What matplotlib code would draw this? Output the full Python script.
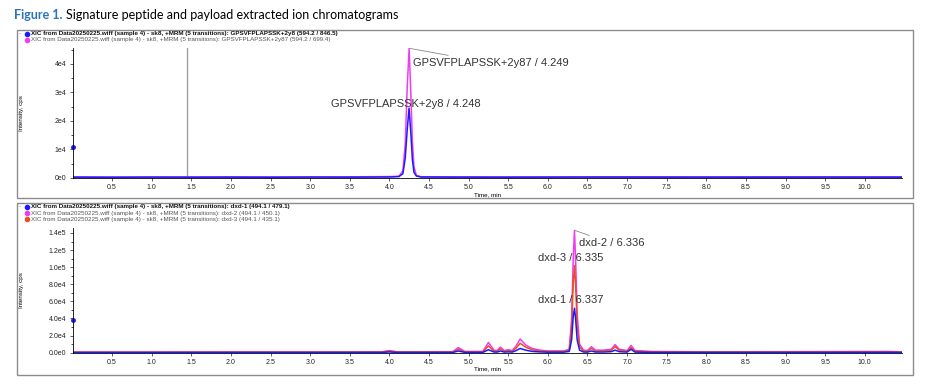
import matplotlib.pyplot as plt
from matplotlib.patches import Rectangle
from matplotlib.ticker import MultipleLocator, FuncFormatter

plt.rcParams['font.family'] = ['Liberation Sans', 'DejaVu Sans']

# ---- data ----
# top panel: signature peptide
y8_t = [0.0, 0.5, 1.0, 1.5, 2.0, 2.5, 3.0, 3.5, 4.0, 4.12, 4.17, 4.20, 4.225, 4.248,
        4.27, 4.29, 4.31, 4.34, 4.40, 4.8, 5.5, 6.5, 7.5, 8.5, 9.5, 10.47]
y8_i = [300, 250, 320, 280, 300, 260, 330, 290, 350, 500, 1500, 7000, 17000, 24500,
        16000, 6500, 2000, 700, 350, 300, 280, 320, 300, 290, 310, 300]
y87_t = [0.0, 1.0, 2.0, 3.0, 4.0, 4.12, 4.17, 4.20, 4.225, 4.249, 4.27, 4.29, 4.31,
         4.34, 4.40, 5.0, 6.0, 7.0, 8.0, 9.0, 10.47]
y87_i = [350, 300, 380, 330, 500, 600, 2500, 12000, 32000, 45500, 30000, 13000, 4000,
         900, 450, 380, 350, 400, 360, 380, 350]
top_start = 1.1e4
cursor_t = 1.44

# bottom panel: payload transitions
dxd_t = [0.0, 1.0, 2.0, 3.0, 3.9, 4.0, 4.1, 4.8, 4.87, 4.95, 5.18, 5.25, 5.32, 5.36,
         5.40, 5.45, 5.5, 5.55, 5.6, 5.65, 5.72, 5.8, 5.9, 6.0, 6.2, 6.27, 6.30, 6.32,
         6.336, 6.35, 6.37, 6.40, 6.45, 6.5, 6.55, 6.6, 6.7, 6.8, 6.85, 6.9, 7.0, 7.05,
         7.1, 7.3, 8.0, 9.0, 10.3, 10.47]
dxd2_i = [800, 800, 900, 900, 1000, 2500, 1000, 1200, 6000, 1500, 1500, 12000, 3000, 2500,
          6500, 2500, 3500, 2500, 8000, 16000, 9000, 5000, 3000, 2000, 2000, 4000, 40000, 110000,
          143000, 110000, 45000, 10000, 3000, 2500, 7000, 3000, 3000, 4000, 9500, 4000, 2500, 8500,
          2500, 1500, 1000, 1200, 1500, 1000]
dxd3_i = [500, 500, 600, 600, 700, 1800, 700, 800, 4000, 1000, 1000, 8000, 2000, 1800,
          4500, 1800, 2500, 1800, 5500, 11000, 6500, 3500, 2000, 1500, 1500, 3000, 30000, 80000,
          102000, 80000, 32000, 7000, 2000, 1800, 5000, 2000, 2200, 3000, 7000, 3000, 1800, 6000,
          1800, 1000, 700, 800, 1000, 700]
dxd1_i = [200, 200, 250, 250, 300, 900, 300, 300, 2000, 400, 400, 3500, 800, 700,
          2000, 700, 1000, 700, 2500, 5000, 3000, 1500, 900, 600, 600, 1500, 15000, 42000,
          52000, 40000, 15000, 3000, 800, 700, 2000, 800, 800, 1200, 3000, 1200, 700, 4000,
          700, 400, 300, 300, 400, 300]
bot_start = 3.8e4

top_legend = ["XIC from Data20250225.wiff (sample 4) - sk8, +MRM (5 transitions): GPSVFPLAPSSK+2y8 (594.2 / 846.5)",
              "XIC from Data20250225.wiff (sample 4) - sk8, +MRM (5 transitions): GPSVFPLAPSSK+2y87 (594.2 / 699.4)"]
bot_legend = ["XIC from Data20250225.wiff (sample 4) - sk8, +MRM (5 transitions): dxd-1 (494.1 / 479.1)",
              "XIC from Data20250225.wiff (sample 4) - sk8, +MRM (5 transitions): dxd-2 (494.1 / 450.1)",
              "XIC from Data20250225.wiff (sample 4) - sk8, +MRM (5 transitions): dxd-3 (494.1 / 435.1)"]

blue = '#1a1aff'
magenta = '#f03cf0'
orange = '#e8501e'
W, H = 936, 387

fig = plt.figure(figsize=(W / 100, H / 100), dpi=100)


def fx(px):
    return px / W


def fy(py):
    return 1 - py / H


# panel frames
for top, bot in [(30, 198), (203, 375)]:
    fig.patches.append(Rectangle((fx(17), fy(bot)), fx(913 - 17), (bot - top) / H,
                                 transform=fig.transFigure, fill=False,
                                 edgecolor='#8c8c8c', linewidth=1.0))

# title
renderer = fig.canvas.get_renderer()
t1 = fig.text(fx(14), fy(15), 'Figure 1.', color='#2e74b5', fontsize=9,
              family='Lato', fontweight='bold', va='center')
bb = t1.get_window_extent(renderer)
fig.text(bb.x1 / W + fx(4), fy(15), 'Signature peptide and payload extracted ion chromatograms',
         color='black', fontsize=9, family='Lato', va='center')

# legends
def legend_rows(labels, colors, y0):
    fig.text(fx(19), fy(y0), '-', fontsize=4, color='#555555', va='center')
    for k, (lab, col) in enumerate(zip(labels, colors)):
        y = y0 + k * 6
        fig.lines.append(plt.Line2D([fx(27)], [fy(y)], marker='o', markersize=3.0,
                                    color=col, transform=fig.transFigure))
        fig.text(fx(31), fy(y), lab, fontsize=4.5, va='center',
                 color='#111111' if k == 0 else '#555555',
                 fontweight='bold' if k == 0 else 'normal')


legend_rows(top_legend, [blue, magenta], 34)
legend_rows(bot_legend, [blue, magenta, orange], 207)


def style_axes(ax, ymax, major, fmt):
    ax.set_xlim(0, 10.47)
    ax.set_ylim(0, ymax)
    for s in ['top', 'right']:
        ax.spines[s].set_visible(False)
    ax.spines['left'].set_linewidth(0.6)
    ax.spines['bottom'].set_linewidth(0.6)
    ax.set_xticks([0.5 * k for k in range(1, 21)])
    ax.xaxis.set_major_formatter(FuncFormatter(lambda v, p: f'{v:.1f}'))
    ax.yaxis.set_major_locator(MultipleLocator(major))
    ax.yaxis.set_minor_locator(MultipleLocator(major / 2))
    ax.yaxis.set_major_formatter(FuncFormatter(fmt))
    ax.tick_params(labelsize=5, length=2.5, width=0.5, pad=2, colors='#222222')
    ax.tick_params(which='minor', length=1.5, width=0.5)
    ax.set_xlabel('Time, min', fontsize=4.5, labelpad=0.5)
    ax.set_ylabel('Intensity, cps', fontsize=4.5)
    ax.yaxis.set_label_coords(-0.058, 0.5)


def fmt_top(v, p):
    if v == 0:
        return '0e0'
    return f'{v / 1e4:.0f}e4'


def fmt_bot(v, p):
    if v == 0:
        return '0.0e0'
    if v >= 1e5:
        return f'{v / 1e5:.1f}e5'
    return f'{v / 1e4:.1f}e4'


ax1 = fig.add_axes([fx(72.5), fy(178), fx(902 - 72.5), (178 - 48) / H])
ax1.axvline(cursor_t, color='#a0a0a0', linewidth=1.0)
ax1.plot(y87_t, y87_i, color=magenta, linewidth=1.1)
ax1.plot(y8_t, y8_i, color=blue, linewidth=1.1)
ax1.plot([0], [top_start], marker='o', markersize=2.5, color=blue, clip_on=False)
style_axes(ax1, 4.56e4, 1e4, fmt_top)
ax1.annotate('GPSVFPLAPSSK+2y87 / 4.249', xy=(4.252, 45500), xytext=(4.30, 40300),
             fontsize=8, color='#333333', va='center',
             arrowprops=dict(arrowstyle='-', color='#888888', lw=0.6, shrinkA=0, shrinkB=0))
ax1.text(3.26, 26000, 'GPSVFPLAPSSK+2y8 / 4.248', fontsize=8, color='#333333', va='center')

ax2 = fig.add_axes([fx(72.5), fy(352.7), fx(902 - 72.5), (352.7 - 228) / H])
ax2.plot(dxd_t, dxd2_i, color=magenta, linewidth=1.1)
ax2.plot(dxd_t, dxd3_i, color=orange, linewidth=1.1)
ax2.plot(dxd_t, dxd1_i, color=blue, linewidth=1.1)
ax2.plot([0], [bot_start], marker='o', markersize=2.5, color=blue, clip_on=False)
style_axes(ax2, 1.458e5, 2e4, fmt_bot)
ax2.annotate('dxd-2 / 6.336', xy=(6.34, 143000), xytext=(6.39, 128000),
             fontsize=8, color='#333333', va='center',
             arrowprops=dict(arrowstyle='-', color='#888888', lw=0.6, shrinkA=0, shrinkB=0))
ax2.text(5.88, 111000, 'dxd-3 / 6.335', fontsize=8, color='#333333', va='center')
ax2.text(5.88, 61500, 'dxd-1 / 6.337', fontsize=8, color='#333333', va='center')

fig.savefig('out.png', dpi=100)
